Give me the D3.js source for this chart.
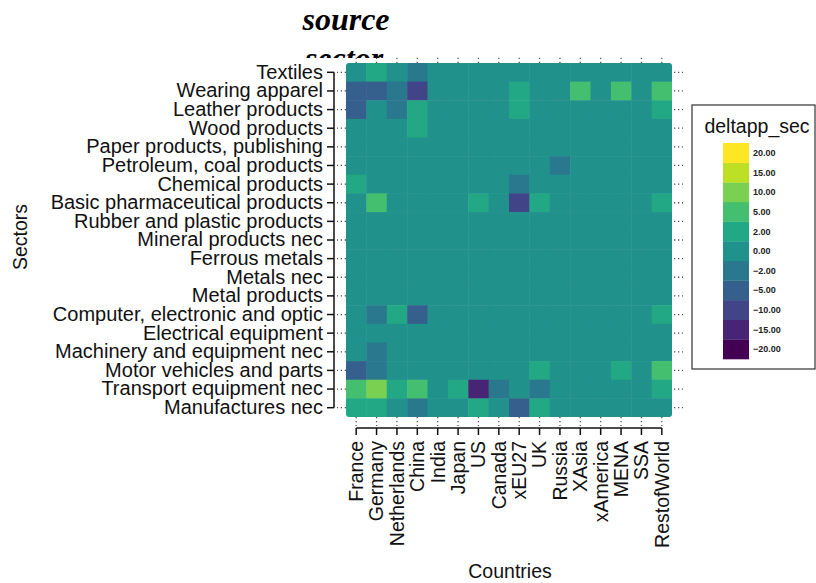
<!DOCTYPE html>
<html lang="en">
<head>
<meta charset="UTF-8">
<title>source sector - deltapp_sec</title>
<script src="https://d3js.org/d3.v7.min.js"></script>
<style>
html, body {
  margin: 0;
  padding: 0;
  background-color: white;
}

body {
  font-family: 'Liberation Sans', Arial, sans-serif;
}

.axis-label {
  font-size: 19.5px;
  fill: #111;
}

.dots line {
  stroke: #555;
  stroke-width: 1.3;
  stroke-dasharray: 1.3, 2.7;
}

.legend-value {
  font-size: 9px;
  font-weight: 600;
  fill: #222;
}
</style>
</head>
<body>

<div id="chart"></div>

<script>

// --------------------------------------
// Data
// --------------------------------------

const sectors = [
  "Textiles", "Wearing apparel", "Leather products", "Wood products",
  "Paper products, publishing", "Petroleum, coal products", "Chemical products",
  "Basic pharmaceutical products", "Rubber and plastic products",
  "Mineral products nec", "Ferrous metals", "Metals nec", "Metal products",
  "Computer, electronic and optic", "Electrical equipment",
  "Machinery and equipment nec", "Motor vehicles and parts",
  "Transport equipment nec", "Manufactures nec"
];

const countries = [
  "France", "Germany", "Netherlands", "China", "India", "Japan", "US", "Canada",
  "xEU27", "UK", "Russia", "XAsia", "xAmerica", "MENA", "SSA", "RestofWorld"
];

// legend classes (bottom to top)
const levels = [-20, -15, -10, -5, -2, 0, 2, 5, 10, 15, 20];

// deltapp_sec, one row per sector, one column per country
const deltapp = [
  [ 0,  2,  0, -2, 0, 0,   0,  0,   0,  0,  0, 0, 0, 0, 0, 0],
  [-5, -5, -2,-10, 0, 0,   0,  0,   2,  0,  0, 5, 0, 5, 0, 5],
  [-5,  0, -2,  2, 0, 0,   0,  0,   2,  0,  0, 0, 0, 0, 0, 2],
  [ 0,  0,  0,  2, 0, 0,   0,  0,   0,  0,  0, 0, 0, 0, 0, 0],
  [ 0,  0,  0,  0, 0, 0,   0,  0,   0,  0,  0, 0, 0, 0, 0, 0],
  [ 0,  0,  0,  0, 0, 0,   0,  0,   0,  0, -2, 0, 0, 0, 0, 0],
  [ 2,  0,  0,  0, 0, 0,   0,  0,  -2,  0,  0, 0, 0, 0, 0, 0],
  [ 0,  5,  0,  0, 0, 0,   2,  0, -10,  2,  0, 0, 0, 0, 0, 2],
  [ 0,  0,  0,  0, 0, 0,   0,  0,   0,  0,  0, 0, 0, 0, 0, 0],
  [ 0,  0,  0,  0, 0, 0,   0,  0,   0,  0,  0, 0, 0, 0, 0, 0],
  [ 0,  0,  0,  0, 0, 0,   0,  0,   0,  0,  0, 0, 0, 0, 0, 0],
  [ 0,  0,  0,  0, 0, 0,   0,  0,   0,  0,  0, 0, 0, 0, 0, 0],
  [ 0,  0,  0,  0, 0, 0,   0,  0,   0,  0,  0, 0, 0, 0, 0, 0],
  [ 0, -2,  2, -5, 0, 0,   0,  0,   0,  0,  0, 0, 0, 0, 0, 2],
  [ 0,  0,  0,  0, 0, 0,   0,  0,   0,  0,  0, 0, 0, 0, 0, 0],
  [ 0, -2,  0,  0, 0, 0,   0,  0,   0,  0,  0, 0, 0, 0, 0, 0],
  [-5, -2,  0,  0, 0, 0,   0,  0,   0,  2,  0, 0, 0, 2, 0, 5],
  [ 5, 10,  2,  5, 0, 2, -15, -2,   0, -2,  0, 0, 0, 0, 0, 2],
  [ 2,  2,  0, -2, 0, 0,   2,  0,  -5,  2,  0, 0, 0, 0, 0, 0]
];

// long format for the tiles
let cells = [];
sectors.forEach((s, i) => {
  countries.forEach((c, j) => {
    cells.push({sector: s, country: c, value: deltapp[i][j]});
  });
});

// --------------------------------------
// Size
// --------------------------------------

let totalWidth = 816;
let totalHeight = 583;

let svg = d3.select("#chart")
  .append("svg")
  .attr("width", totalWidth)
  .attr("height", totalHeight);

// --------------------------------------
// Scales
// --------------------------------------

let x = d3.scaleBand()
  .domain(countries)
  .range([346, 672])
  .padding(0);

let y = d3.scaleBand()
  .domain(sectors)
  .range([63, 417])
  .padding(0);

let colour = d3.scaleOrdinal()
  .domain(levels)
  .range(levels.map((d, i) => d3.interpolateViridis(i / (levels.length - 1))));

// --------------------------------------
// Title (partly hidden behind the panel)
// --------------------------------------

svg.append("text")
  .attr("x", 346)
  .attr("y", 30)
  .attr("text-anchor", "middle")
  .style("font-family", "'Liberation Serif', 'Times New Roman', serif")
  .style("font-weight", "bold")
  .style("font-style", "italic")
  .style("font-size", "32px")
  .text("source");

svg.append("text")
  .attr("x", 344)
  .attr("y", 69)
  .attr("text-anchor", "middle")
  .style("font-family", "'Liberation Serif', 'Times New Roman', serif")
  .style("font-weight", "bold")
  .style("font-style", "italic")
  .style("font-size", "32px")
  .text("sector");

// white panel
svg.append("rect")
  .attr("x", 250)
  .attr("y", 58)
  .attr("width", 440)
  .attr("height", 380)
  .attr("fill", "white");

// --------------------------------------
// Tiles
// --------------------------------------

svg.append("clipPath")
  .attr("id", "panel-clip")
  .append("rect")
  .attr("x", x.range()[0])
  .attr("y", y.range()[0])
  .attr("width", x.range()[1] - x.range()[0])
  .attr("height", y.range()[1] - y.range()[0])
  .attr("rx", 3);

svg.append("g")
  .attr("clip-path", "url(#panel-clip)")
  .selectAll("rect")
  .data(cells)
  .join("rect")
  .attr("x", d => x(d.country))
  .attr("y", d => y(d.sector))
  .attr("width", x.bandwidth() + 0.5)
  .attr("height", y.bandwidth() + 0.5)
  .attr("fill", d => colour(d.value));

// --------------------------------------
// Dotted ticks round the panel
// --------------------------------------

svg.append("g")
  .attr("class", "dots")
  .attr("transform", "translate(0,63)")
  .call(d3.axisTop(x).tickSize(8).tickFormat(""))
  .call(g => g.select(".domain").remove());

svg.append("g")
  .attr("class", "dots")
  .attr("transform", "translate(0,417)")
  .call(d3.axisBottom(x).tickSize(9).tickFormat(""))
  .call(g => g.select(".domain").remove());

svg.append("g")
  .attr("class", "dots")
  .attr("transform", "translate(346,0)")
  .call(d3.axisLeft(y).tickSize(9).tickFormat(""))
  .call(g => g.select(".domain").remove());

svg.append("g")
  .attr("class", "dots")
  .attr("transform", "translate(674,0)")
  .call(d3.axisRight(y).tickSize(9).tickFormat(""))
  .call(g => g.select(".domain").remove());

// --------------------------------------
// Axes (base graphics style)
// --------------------------------------

let yAxis = svg.append("g")
  .attr("transform", "translate(334,0)")
  .call(d3.axisLeft(y).tickSize(7).tickPadding(4))
  .call(g => g.select(".domain").remove());

yAxis.append("line")
  .attr("y1", y(sectors[0]) + y.bandwidth() / 2)
  .attr("y2", y(sectors[sectors.length - 1]) + y.bandwidth() / 2)
  .attr("stroke", "#111")
  .attr("stroke-width", 1.5);

yAxis.selectAll(".tick line").attr("stroke", "#111").attr("stroke-width", 1.5);
yAxis.selectAll(".tick text")
  .attr("class", "axis-label")
  .style("font-family", "'Liberation Sans', Arial, sans-serif")
  .style("font-size", "20px")
  .attr("fill", "#111");

let xAxis = svg.append("g")
  .attr("transform", "translate(0,428)")
  .call(d3.axisBottom(x).tickSize(7))
  .call(g => g.select(".domain").remove());

xAxis.append("line")
  .attr("x1", x(countries[0]) + x.bandwidth() / 2)
  .attr("x2", x(countries[countries.length - 1]) + x.bandwidth() / 2)
  .attr("stroke", "#111")
  .attr("stroke-width", 1.5);

xAxis.selectAll(".tick line").attr("stroke", "#111").attr("stroke-width", 1.5);
xAxis.selectAll(".tick text")
  .attr("class", "axis-label")
  .style("font-family", "'Liberation Sans', Arial, sans-serif")
  .attr("fill", "#111")
  .attr("text-anchor", "end")
  .attr("transform", "rotate(-90)")
  .attr("x", -13)
  .attr("y", 0)
  .attr("dy", "0.35em");

// axis titles
svg.append("text")
  .attr("class", "axis-label")
  .attr("transform", "translate(27,237) rotate(-90)")
  .attr("text-anchor", "middle")
  .text("Sectors");

svg.append("text")
  .attr("class", "axis-label")
  .attr("x", 510)
  .attr("y", 578)
  .attr("text-anchor", "middle")
  .text("Countries");

// --------------------------------------
// Legend
// --------------------------------------

let legend = svg.append("g");

legend.append("rect")
  .attr("x", 692)
  .attr("y", 105)
  .attr("width", 123)
  .attr("height", 264)
  .attr("fill", "white")
  .attr("stroke", "#333")
  .attr("stroke-width", 1.2);

legend.append("text")
  .attr("class", "axis-label")
  .attr("x", 757)
  .attr("y", 133)
  .attr("text-anchor", "middle")
  .text("deltapp_sec");

let ly = d3.scaleBand()
  .domain(levels.slice().reverse())
  .range([143, 359]);

legend.selectAll(".swatch")
  .data(levels)
  .join("rect")
  .attr("class", "swatch")
  .attr("x", 723)
  .attr("y", d => ly(d))
  .attr("width", 26)
  .attr("height", ly.bandwidth() + 0.3)
  .attr("fill", d => colour(d));

legend.selectAll(".legend-value")
  .data(levels)
  .join("text")
  .attr("class", "legend-value")
  .attr("x", 753)
  .attr("y", d => ly(d) + ly.bandwidth() / 2)
  .attr("dy", "0.35em")
  .text(d => d3.format(".2f")(d));

</script>
</body>
</html>
